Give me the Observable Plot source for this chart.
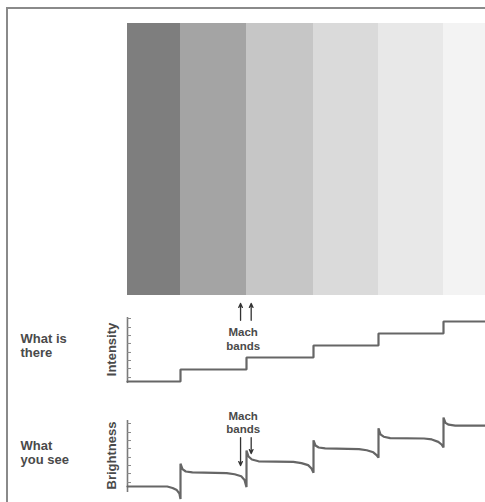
<!DOCTYPE html>
<html>
<head>
<meta charset="utf-8">
<script src="https://cdn.jsdelivr.net/npm/d3@7"></script>
<script src="https://cdn.jsdelivr.net/npm/@observablehq/plot@0.6"></script>
<style>
  html, body { margin: 0; padding: 0; background: #fff; }
  #wrap { position: relative; width: 485px; height: 502px; overflow: hidden; background: #fff; }
  #wrap svg { position: absolute; left: 0; top: 0; }
  #frame { position: absolute; left: 6px; top: 7px; right: -4px; bottom: -4px;
           border-left: 2px solid #8a8a8a; border-top: 2px solid #8a8a8a; }
</style>
</head>
<body>
<div id="wrap"><div id="frame"></div></div>
<script>
// ---- data ----
const bandStart = [0, 1, 2, 3, 4, 5];
const bandEnd = [1, 2, 3, 4, 5, 5.65];
const bandShade = ["#7e7e7e", "#a4a4a4", "#c6c6c6", "#dadada", "#e8e8e8", "#f3f3f3"];

const intensityX = [0, 1, 2, 3, 4, 5, 5.65];
const intensityLevel = [0, 1, 2, 3, 4, 5, 5];
const intensityTicks = [0.33, 1.08, 1.75, 2.42, 3.17, 3.83, 4.5, 5.25];

const brightnessX = [
  0, 0.75, 0.85, 0.93, 0.98, 1.0,
  1.0, 1.03, 1.08, 1.18, 1.7, 1.82, 1.92, 1.97, 2.0,
  2.0, 2.03, 2.08, 2.18, 2.7, 2.82, 2.92, 2.97, 3.0,
  3.0, 3.03, 3.08, 3.18, 3.7, 3.82, 3.92, 3.97, 4.0,
  4.0, 4.03, 4.08, 4.18, 4.7, 4.82, 4.92, 4.97, 5.0,
  5.0, 5.03, 5.08, 5.18, 5.65
];
const brightnessY = [
  0, 0, -0.12, -0.3, -0.6, -1.05,
  1.9, 1.45, 1.25, 1.17, 1.12, 1.02, 0.85, 0.55, -0.05,
  3.0, 2.5, 2.25, 2.1, 2.05, 1.95, 1.78, 1.5, 1.15,
  3.85, 3.42, 3.25, 3.17, 3.12, 3.02, 2.85, 2.62, 2.4,
  4.85, 4.35, 4.15, 4.03, 4.0, 3.92, 3.72, 3.5, 3.25,
  5.75, 5.3, 5.15, 5.08, 5.08
];
const brightnessTicks = [0.33, 1.08, 1.75, 2.42, 3.17, 3.83, 4.5, 5.25];

const rowLabels = ["What is\nthere", "What\nyou see"];
const axisLabels = ["Intensity", "Brightness"];
const machLabel = "Mach\nbands";
const machTopArrowX = [1.91, 2.07];
const machBottomArrowX = [1.91, 2.07];
const machBottomArrowTip = [1.75, 2.75];

// ---- layout ----
const W = 485, H = 502;
const xScale = {type: "linear", domain: [0, 1, 2, 3, 4, 5, 6], range: [127, 180, 246, 313, 378, 443, 508]};
const font = "'Liberation Sans', Arial, Helvetica, sans-serif";
const ink = "#4a4a4a";
const lineInk = "#666";
const common = {width: W, height: H, margin: 0, marginLeft: 127,
  style: {background: "transparent", overflow: "hidden", fontFamily: font}};

const bands = bandStart.map((s, i) => ({s, e: bandEnd[i], c: bandShade[i]}));
const intensity = intensityX.map((x, i) => ({x, y: intensityLevel[i]}));
const brightness = brightnessX.map((x, i) => ({x, y: brightnessY[i]}));

const wrap = document.getElementById("wrap");

// Panel 1: the grey bands
wrap.append(Plot.plot({
  ...common,
  x: {...xScale, axis: null},
  y: {domain: [0, 1], range: [295, 23], axis: null},
  marks: [
    Plot.rectY(bands, {x1: "s", x2: "e", y1: 0, y2: 1, fill: "c"})
  ]
}));

function panel({data, yRange, ticks, axisExtent, rowLabel, axisLabel, rowY, axisY, machY, arrows}) {
  return Plot.plot({
    ...common,
    x: {...xScale, axis: null},
    y: {domain: [0, 5], range: yRange, axis: null},
    marks: [
      Plot.ruleX([0], {y1: axisExtent[0], y2: axisExtent[1], stroke: "#7a7a7a", strokeWidth: 1.6}),
      Plot.axisY({ticks, tickSize: -4, tickFormat: () => "", label: null, stroke: "#8a8a8a", strokeWidth: 1}),
      Plot.line(data, {x: "x", y: "y", curve: data === intensity ? "step-after" : "linear",
        stroke: lineInk, strokeWidth: 2.2, strokeLinejoin: "miter"}),
      Plot.text([rowLabel], {frameAnchor: "left", dx: -107, y: rowY, textAnchor: "start",
        lineAnchor: "middle", lineHeight: 1.1, fontSize: 13, fontWeight: "bold", fill: ink}),
      Plot.text([axisLabel], {frameAnchor: "left", dx: -16, y: axisY, rotate: -90, textAnchor: "middle",
        lineAnchor: "middle", fontSize: 13, fontWeight: "bold", fill: ink}),
      Plot.text([machLabel], {x: 1.95, y: machY, textAnchor: "middle", lineAnchor: "middle",
        lineHeight: 1.2, fontSize: 11.5, fontWeight: "bold", fill: ink}),
      Plot.arrow(arrows, {x1: "x", x2: "x", y1: "y1", y2: "y2", stroke: "#333",
        strokeWidth: 1.3, headLength: 5, headAngle: 50})
    ]
  });
}

// Panel 2: what is there
wrap.append(panel({
  data: intensity, yRange: [381, 321], ticks: intensityTicks, axisExtent: [-0.17, 5.33],
  rowLabel: rowLabels[0], axisLabel: axisLabels[0], rowY: 3.0, axisY: 2.67, machY: 3.58,
  arrows: machTopArrowX.map(x => ({x, y1: 5.1, y2: 6.5}))
}));

// Panel 3: what you see
wrap.append(panel({
  data: brightness, yRange: [486, 426], ticks: brightnessTicks, axisExtent: [-0.5, 5.5],
  rowLabel: rowLabels[1], axisLabel: axisLabels[1], rowY: 2.83, axisY: 2.58, machY: 5.375,
  arrows: machBottomArrowX.map((x, i) => ({x, y1: 4.08, y2: machBottomArrowTip[i]}))
}));
</script>
</body>
</html>
